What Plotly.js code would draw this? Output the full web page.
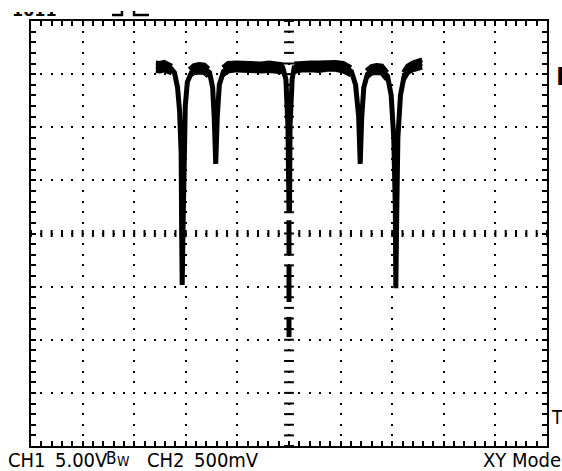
<!DOCTYPE html>
<html>
<head>
<meta charset="utf-8">
<script src="https://cdn.plot.ly/plotly-3.0.1.min.js"></script>
<style>
  html, body { margin: 0; padding: 0; background: #fff; }
  #wrap { position: relative; width: 562px; height: 471px; overflow: hidden; }
  #chart { position: absolute; left: 0; top: 0; width: 562px; height: 471px; }
  .frag { position: absolute; overflow: hidden; }
  .frag span { position: absolute; left: 0; white-space: nowrap; color: #000;
               font-family: "DejaVu Sans", sans-serif; font-weight: bold; }
</style>
</head>
<body>
<div id="wrap">
  <div id="chart"></div>
  <div class="frag" style="left:12px; top:12px; width:50px; height:6px;">
    <span style="top:-9px; font-size:16px; line-height:16px;">1011</span>
  </div>
</div>
<script>
// ---- data (in screen divisions: x -5..5, y -4..4) ----
const traceX = [-2.58,-2.49,-2.37,-2.29,-2.22,-2.16,-2.12,-2.09,-2.08,-2.07,-2.05,-2.04,-2.01,-1.97,-1.89,-1.77,-1.64,-1.54,-1.48,-1.45,-1.42,-1.39,-1.35,-1.27,-1.14,-0.85,-0.56,-0.27,-0.12,-0.06,-0.02,0.0,
  null,0.0,0.0,null,0.0,0.0,null,0.0,0.0,null,
  0.01,0.02,0.06,0.1,0.31,0.6,0.89,1.08,1.21,1.29,1.35,1.38,1.41,1.45,1.52,1.64,1.79,1.91,1.98,2.03,2.06,2.07,2.09,2.11,2.16,2.23,2.35,2.47,2.58];
const traceY = [3.14,3.13,3.15,3.11,3.03,2.75,2.3,1.5,0.0,-0.97,0.3,1.6,2.4,2.85,3.03,3.1,3.1,3.03,2.75,2.2,1.31,2.2,2.8,3.05,3.13,3.15,3.13,3.14,3.12,2.9,2.0,0.40,
  null,0.25,-0.40,null,-0.59,-1.29,null,-1.57,-1.95,null,
  0.40,2.0,2.9,3.12,3.15,3.14,3.15,3.14,3.05,2.8,2.2,1.31,2.2,2.75,3.0,3.09,3.09,2.96,2.6,1.8,0.5,-1.03,0.5,1.8,2.6,2.96,3.1,3.17,3.2];

// noise band edges of the flat part of the trace
const bandX = [-2.58,-2.5,-2.42,-2.34,-2.27,null,
  -1.93,-1.84,-1.74,-1.64,-1.56,null,
  -1.28,-1.18,-1.02,-0.86,-0.7,-0.54,-0.38,-0.22,-0.1,null,
  0.1,0.26,0.42,0.58,0.74,0.9,1.05,1.2,null,
  1.5,1.6,1.7,1.8,1.9,null,
  2.22,2.3,2.4,2.5,2.58];
const bandTopY = [3.21,3.2,3.22,3.19,3.15,null,
  3.09,3.16,3.18,3.17,3.1,null,
  3.12,3.2,3.21,3.2,3.21,3.19,3.21,3.2,3.17,null,
  3.19,3.21,3.21,3.21,3.22,3.22,3.2,3.12,null,
  3.06,3.14,3.16,3.15,3.03,null,
  3.03,3.15,3.21,3.24,3.27];
const bandBottomY = [3.07,3.06,3.08,3.05,3.02,null,
  2.97,3.03,3.04,3.03,2.96,null,
  2.99,3.06,3.08,3.07,3.07,3.06,3.07,3.06,3.04,null,
  3.05,3.08,3.08,3.07,3.09,3.09,3.06,2.99,null,
  2.94,3.02,3.03,3.02,2.9,null,
  2.9,3.03,3.08,3.11,3.13];

// screen layout
const xDivs = [-5, 5];
const yDivs = [-4, 4];
const minorStep = 0.2;

const ch1Label = "CH1";
const ch1Scale = "5.00V";
const bwLabel = ["B", "W"];
const ch2Label = "CH2";
const ch2Scale = "500mV";
const modeLabel = "XY Mode";
const markerB = "B";
const markerT = "T";

// ---- build ----
const W = 562, H = 471;
const M = {l: 31, r: 15, t: 21, b: 25};
const PW = W - M.l - M.r, PH = H - M.t - M.b;
const px = X => (X - M.l) / PW;
const py = Y => (H - M.b - Y) / PH;

const tickY = [], tickX = [];
for (let v = yDivs[0]; v <= yDivs[1] + 1e-9; v += minorStep) tickY.push(+v.toFixed(2));
for (let v = xDivs[0]; v <= xDivs[1] + 1e-9; v += minorStep) tickX.push(+v.toFixed(2));

const font = "Liberation Sans Narrow, DejaVu Sans Condensed, Arial Narrow, sans-serif";
const black = "#000";

const data = [
  { x: tickY.map(() => 0), y: tickY, mode: "markers", hoverinfo: "skip",
    marker: { symbol: "line-ew", size: 7, line: { width: 2, color: black } } },
  { x: tickX, y: tickX.map(() => 0), mode: "markers", hoverinfo: "skip",
    marker: { symbol: "line-ns", size: 5, line: { width: 2, color: black } } },
  { x: bandX, y: bandTopY, mode: "lines", line: { color: black, width: 5 }, connectgaps: false },
  { x: bandX, y: bandBottomY, mode: "lines", line: { color: black, width: 5 }, connectgaps: false },
  { x: traceX, y: traceY, mode: "lines", line: { color: black, width: 5 }, connectgaps: false }
];

const axisCommon = {
  showgrid: true, gridcolor: black, gridwidth: 2,
  zeroline: false, showline: true, linecolor: black, linewidth: 2,
  mirror: "allticks", ticks: "inside", ticklen: 5, tickwidth: 2, tickcolor: black,
  showticklabels: false, dtick: 1, tick0: 0, fixedrange: true,
  minor: { dtick: minorStep, ticks: "inside", ticklen: 5, tickwidth: 2, tickcolor: black, showgrid: false }
};

const stepAlongV = PH / ((yDivs[1] - yDivs[0]) / minorStep);
const stepAlongH = PW / ((xDivs[1] - xDivs[0]) / minorStep);

const layout = {
  width: W, height: H, margin: M,
  paper_bgcolor: "#fff", plot_bgcolor: "#fff", showlegend: false,
  xaxis: Object.assign({}, axisCommon, { range: xDivs,
    griddash: "1px," + (stepAlongV - 2).toFixed(3) + "px,1px,0px" }),
  yaxis: Object.assign({}, axisCommon, { range: yDivs,
    griddash: "1px," + (stepAlongH - 2).toFixed(3) + "px,1px,0px" }),
  font: { family: font, size: 20, color: black },
  shapes: [
    { type: "path", xref: "paper", yref: "paper",
      path: `M${px(112)},${py(15)} L${px(122)},${py(15)} L${px(122)},${py(11)}`,
      line: { color: black, width: 2.5 } },
    { type: "path", xref: "paper", yref: "paper",
      path: `M${px(134)},${py(11)} L${px(134)},${py(15)} L${px(149)},${py(15)}`,
      line: { color: black, width: 2.5 } }
  ],
  annotations: [
    { text: ch1Label, x: px(7), xanchor: "left" },
    { text: ch1Scale, x: px(54), xanchor: "left" },
    { text: bwLabel[0], x: px(105), xanchor: "left", font: { family: font, size: 17, color: black } },
    { text: bwLabel[1], x: px(116), xanchor: "left", yshift: -5, font: { family: font, size: 14, color: black } },
    { text: ch2Label, x: px(146), xanchor: "left" },
    { text: ch2Scale, x: px(193), xanchor: "left" },
    { text: modeLabel, x: px(562), xanchor: "right" },
  ].map(a => Object.assign({ xref: "paper", yref: "paper", y: py(447), yanchor: "top", showarrow: false, borderpad: 0 }, a))
  .concat([
    { text: markerT, xref: "paper", yref: "paper", x: px(550), y: py(405), xanchor: "left", yanchor: "top", showarrow: false, borderpad: 0,
      font: { family: font, size: 19, color: black } },
    { text: "<b>" + markerB + "</b>", xref: "paper", yref: "paper", x: px(555), y: py(62), xanchor: "left", yanchor: "top", showarrow: false, borderpad: 0,
      font: { family: "DejaVu Sans, sans-serif", size: 24, color: black } }
  ])
};

Plotly.newPlot("chart", data, layout, { displayModeBar: false, staticPlot: true });
</script>
</body>
</html>
